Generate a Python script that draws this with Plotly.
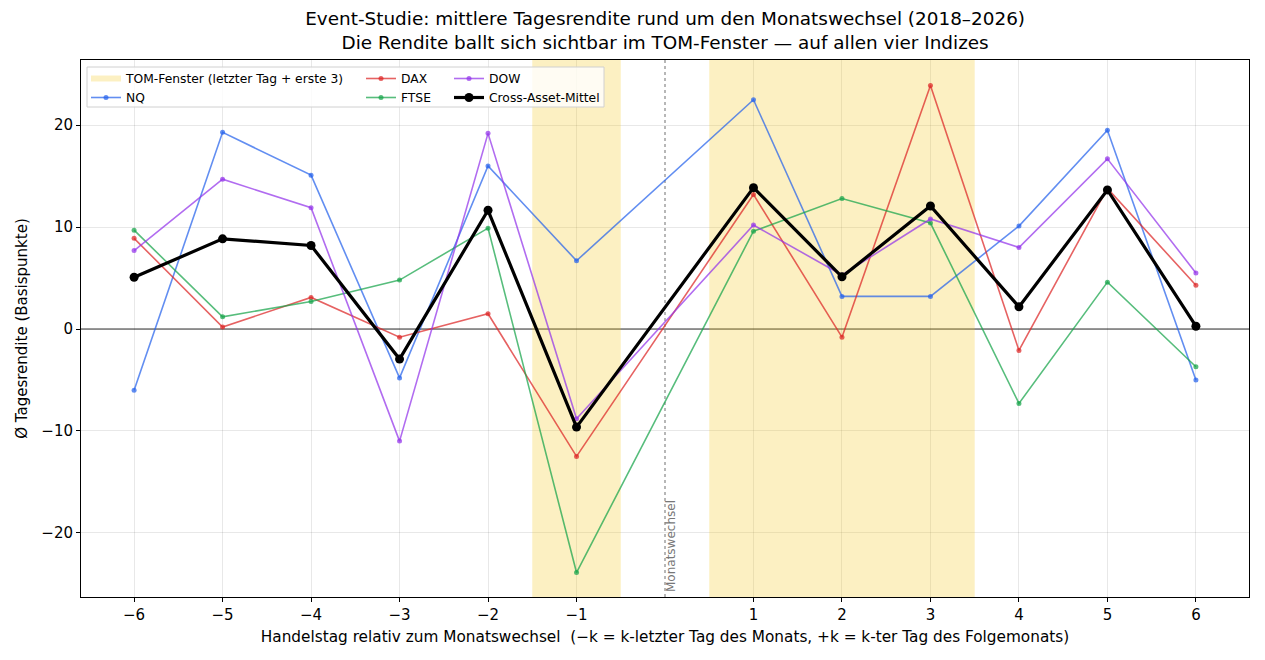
import plotly.graph_objects as go

# ---------------- data ----------------
days = [-6, -5, -4, -3, -2, -1, 1, 2, 3, 4, 5, 6]
tick_labels = ["\u22126", "\u22125", "\u22124", "\u22123", "\u22122", "\u22121", "1", "2", "3", "4", "5", "6"]

nq   = [-6.0, 19.3, 15.1, -4.8, 16.0, 6.7, 22.5, 3.2, 3.2, 10.1, 19.5, -5.0]
dax  = [8.9, 0.2, 3.1, -0.8, 1.5, -12.5, 13.2, -0.8, 23.9, -2.1, 13.8, 4.3]
ftse = [9.7, 1.2, 2.7, 4.8, 9.9, -23.9, 9.6, 12.8, 10.4, -7.3, 4.6, -3.7]
dow  = [7.7, 14.7, 11.9, -11.0, 19.2, -8.8, 10.2, 5.3, 10.8, 8.0, 16.7, 5.5]
mean = [round((a + b + c + d) / 4, 3) for a, b, c, d in zip(nq, dax, ftse, dow)]

tom_windows = [(-1.5, -0.5), (0.5, 3.5)]

y_range = [-26.3, 26.4]
x_range = [-6.6, 6.6]

FONT = "DejaVu Sans, Liberation Sans, sans-serif"

fig = go.Figure()

# TOM window shading as a filled trace (gives the legend patch too)
fx, fy = [], []
for a, b in tom_windows:
    fx += [a, a, b, b, a, None]
    fy += [y_range[0], y_range[1], y_range[1], y_range[0], y_range[0], None]
fig.add_trace(go.Scatter(
    x=fx, y=fy, fill="toself", mode="none",
    fillcolor="rgba(245,200,30,0.27)",
    name="TOM-Fenster (letzter Tag + erste 3)", legend="legend",
    hoverinfo="skip"))

series = [
    ("NQ", nq, "rgba(37,99,235,0.72)", "legend"),
    ("DAX", dax, "rgba(220,38,38,0.72)", "legend2"),
    ("FTSE", ftse, "rgba(22,163,74,0.72)", "legend2"),
    ("DOW", dow, "rgba(147,51,234,0.72)", "legend3"),
]
for name, vals, col, lg in series:
    fig.add_trace(go.Scatter(
        x=days, y=vals, mode="lines+markers", name=name, legend=lg,
        line=dict(color=col, width=1.6),
        marker=dict(color=col, size=5)))

fig.add_trace(go.Scatter(
    x=days, y=mean, mode="lines+markers", name="Cross-Asset-Mittel", legend="legend3",
    line=dict(color="black", width=3.2),
    marker=dict(color="black", size=9)))

# zero line and month-change line
fig.add_hline(y=0, line=dict(color="#333333", width=1), layer="below")
fig.add_vline(x=0, line=dict(color="#888888", width=1.2, dash="dot"), layer="below")
fig.add_annotation(x=0, y=0, xref="x", yref="paper", text="Monatswechsel",
                   textangle=-90, showarrow=False, xanchor="left", yanchor="bottom",
                   yshift=3, xshift=-3,
                   font=dict(family=FONT, size=12, color="#777777"))

# legend frame
lx0, lx1 = (87 - 81) / 1168, (604 - 81) / 1168
ly0, ly1 = (597 - 107) / 537, (597 - 67) / 537
fig.add_shape(type="rect", xref="paper", yref="paper", x0=lx0, x1=lx1, y0=ly0, y1=ly1,
              fillcolor="rgba(255,255,255,0.8)", line=dict(color="#d0d0d0", width=1),
              layer="above")

leg_common = dict(orientation="v", bgcolor="rgba(0,0,0,0)", borderwidth=0,
                  font=dict(family=FONT, size=12.3, color="black"),
                  yanchor="top", xanchor="left", tracegroupgap=0, itemwidth=30)
ly_top = (597 - 64) / 537
fig.update_layout(
    legend=dict(x=(86 - 81) / 1168, y=ly_top, **leg_common),
    legend2=dict(x=(361 - 81) / 1168, y=ly_top, **leg_common),
    legend3=dict(x=(449 - 81) / 1168, y=ly_top, **leg_common),
)

axis_common = dict(showline=True, linecolor="black", linewidth=1, mirror=True,
                   ticks="outside", ticklen=4, tickcolor="black",
                   showgrid=True, gridcolor="rgba(0,0,0,0.09)", gridwidth=1,
                   zeroline=False, tickfont=dict(family=FONT, size=15, color="black"))

fig.update_xaxes(range=x_range, tickmode="array", tickvals=days, ticktext=tick_labels,
                 title=dict(text="Handelstag relativ zum Monatswechsel  (\u2212k = k-letzter Tag des Monats, +k = k-ter Tag des Folgemonats)",
                            font=dict(family=FONT, size=15.3, color="black"), standoff=8),
                 **axis_common)
fig.update_yaxes(range=y_range, tickmode="array", tickvals=[-20, -10, 0, 10, 20],
                 ticktext=["\u221220", "\u221210", "0", "10", "20"],
                 title=dict(text="\u00d8 Tagesrendite (Basispunkte)",
                            font=dict(family=FONT, size=15, color="black"), standoff=10),
                 **axis_common)

fig.update_layout(
    width=1265, height=660,
    margin=dict(l=81, r=16, t=60, b=63),
    plot_bgcolor="white", paper_bgcolor="white",
    font=dict(family=FONT, size=15, color="black"),
    title=dict(text="Event-Studie: mittlere Tagesrendite rund um den Monatswechsel (2018\u20132026)<br>Die Rendite ballt sich sichtbar im TOM-Fenster \u2014 auf allen vier Indizes",
               x=0.5258, xanchor="center", y=0.962, yanchor="top",
               font=dict(family=FONT, size=18.4, color="black")),
    showlegend=True,
)

fig.write_html("out.html")
